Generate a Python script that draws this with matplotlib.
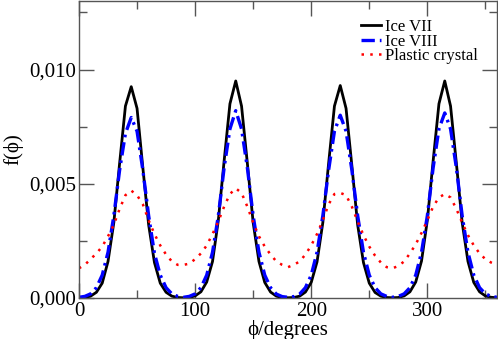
import numpy as np
import matplotlib
matplotlib.use('Agg')
import matplotlib.pyplot as plt
from matplotlib.ticker import MultipleLocator, FuncFormatter

plt.rcParams['font.family'] = ['Liberation Serif', 'DejaVu Serif']

# --- data: angle (degrees) and f(phi) in units of 1e-3 ---
phi = np.arange(0, 361, 5)

ice7 = [0.00, 0.02, 0.08, 0.25, 0.65, 1.60, 3.30, 5.90, 8.40, 9.25,
        8.30, 5.70, 3.20, 1.55, 0.65, 0.25, 0.08, 0.02, 0.01,
        0.02, 0.09, 0.27, 0.70, 1.60, 3.40, 6.00, 8.50, 9.50,
        8.40, 5.90, 3.30, 1.60, 0.68, 0.26, 0.08, 0.02, 0.01,
        0.02, 0.08, 0.26, 0.68, 1.58, 3.30, 5.90, 8.40, 9.30,
        8.30, 5.80, 3.20, 1.55, 0.65, 0.24, 0.08, 0.02, 0.01,
        0.02, 0.09, 0.27, 0.70, 1.62, 3.40, 6.00, 8.50, 9.50,
        8.40, 5.90, 3.30, 1.60, 0.68, 0.27, 0.09, 0.03, 0.01]

ice8 = [0.03, 0.07, 0.18, 0.45, 1.00, 2.00, 3.60, 5.60, 7.20, 7.90,
        7.30, 5.60, 3.60, 1.95, 1.00, 0.45, 0.18, 0.07, 0.03,
        0.07, 0.18, 0.45, 1.00, 2.00, 3.60, 5.70, 7.40, 8.20,
        7.40, 5.70, 3.60, 2.00, 1.00, 0.45, 0.17, 0.06, 0.03,
        0.06, 0.17, 0.45, 1.00, 2.00, 3.60, 5.60, 7.30, 8.00,
        7.30, 5.60, 3.60, 2.00, 1.00, 0.45, 0.18, 0.07, 0.03,
        0.07, 0.18, 0.45, 1.00, 2.00, 3.60, 5.70, 7.40, 8.10,
        7.40, 5.70, 3.60, 2.00, 1.00, 0.45, 0.18, 0.07, 0.03]

plastic = [1.30, 1.45, 1.70, 1.95, 2.25, 2.70, 3.20, 3.90, 4.50, 4.70,
           4.50, 4.10, 3.40, 2.80, 2.30, 1.90, 1.60, 1.45, 1.45,
           1.50, 1.70, 1.95, 2.30, 2.80, 3.35, 4.00, 4.55, 4.80,
           4.60, 4.00, 3.30, 2.70, 2.25, 1.90, 1.60, 1.45, 1.35,
           1.45, 1.60, 1.90, 2.30, 2.80, 3.40, 4.10, 4.55, 4.60,
           4.50, 4.00, 3.35, 2.75, 2.25, 1.85, 1.55, 1.35, 1.30,
           1.40, 1.60, 1.95, 2.35, 2.85, 3.40, 4.00, 4.40, 4.55,
           4.40, 3.90, 3.30, 2.75, 2.30, 1.95, 1.70, 1.55, 1.45]

labels = ['Ice VII', 'Ice VIII', 'Plastic crystal']

# --- figure ---
fig = plt.figure(figsize=(4.98, 3.39), dpi=100)
ax = fig.add_axes([0.1586, 0.121, 0.8394, 0.876])

ax.plot(phi, np.array(ice7) * 1e-3, color='black', lw=2.0, label=labels[0])
ax.plot(phi, np.array(ice8) * 1e-3, color='#0000ff', lw=2.4,
        linestyle=(0, (4, 1.5, 0.8, 1.5)), label=labels[1])
ax.plot(phi, np.array(plastic) * 1e-3, color='#ff0000', lw=1.8,
        linestyle=(0, (1, 2.5)), label=labels[2])

ax.set_xlim(0, 360)
ax.set_ylim(0, 0.013)
ax.xaxis.set_major_locator(MultipleLocator(100))
ax.xaxis.set_minor_locator(MultipleLocator(50))
ax.yaxis.set_major_locator(MultipleLocator(0.005))
ax.yaxis.set_minor_locator(MultipleLocator(0.0025))
ax.yaxis.set_major_formatter(FuncFormatter(lambda v, p: f"{v:.3f}".replace('.', ',')))

spine_col = '#555555'
for s in ax.spines.values():
    s.set_color(spine_col)
    s.set_linewidth(1.0)
ax.tick_params(which='both', direction='in', top=True, right=True,
               colors=spine_col, labelcolor='black', labelsize=15)
ax.tick_params(which='major', length=11, width=1.0)
ax.tick_params(which='minor', length=6, width=1.0)
ax.tick_params(axis='y', pad=2)
ax.tick_params(axis='x', pad=3)

ax.set_xlabel('ϕ/degrees', fontsize=15, labelpad=-1)
ax.set_ylabel('f(ϕ)', fontsize=15, labelpad=4)

ax.legend(loc='upper left', bbox_to_anchor=(0.675, 0.94), frameon=False,
          fontsize=12, handlelength=1.2, handletextpad=0.25,
          labelspacing=-0.08, borderpad=0, borderaxespad=0)

fig.savefig('out.png', dpi=100)
